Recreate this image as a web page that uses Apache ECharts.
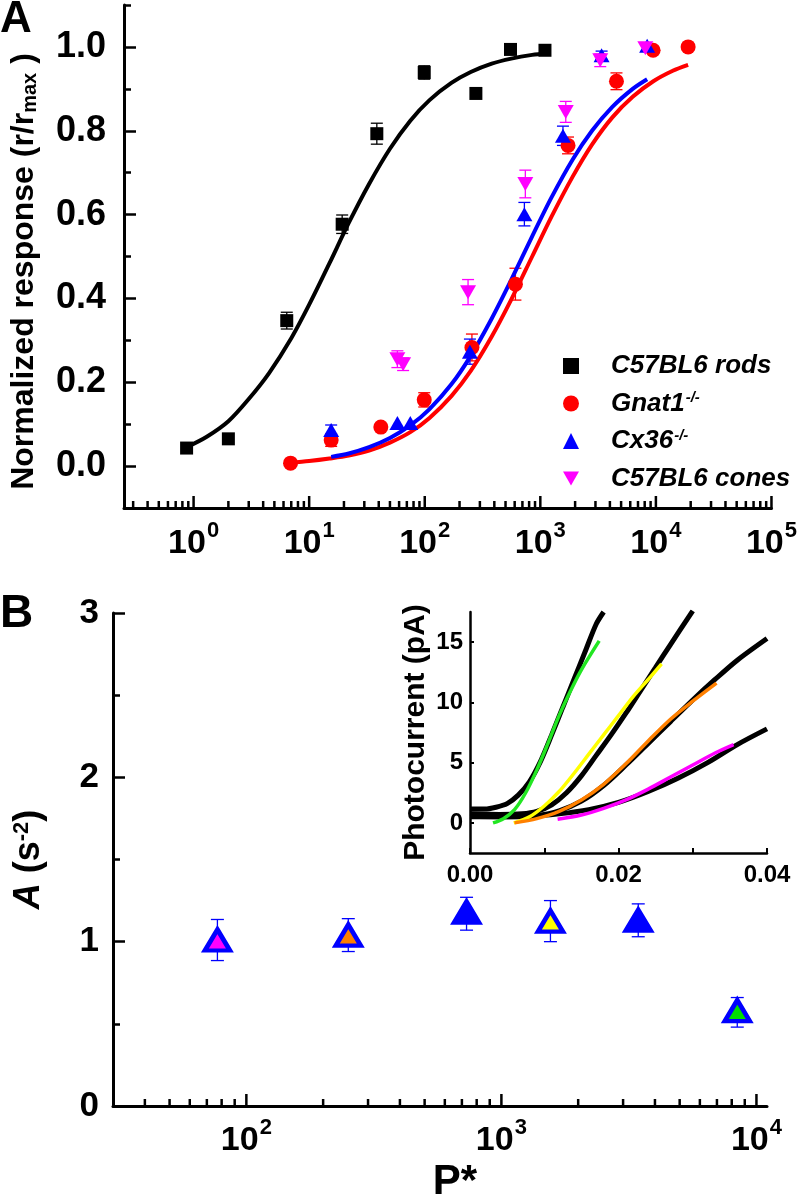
<!DOCTYPE html>
<html><head><meta charset="utf-8">
<script src="https://cdn.jsdelivr.net/npm/echarts@6/dist/echarts.min.js"></script>
<style>html,body{margin:0;padding:0;background:#fff}#c{width:800px;height:1204px}</style>
</head><body><div id="c"></div>
<script>
// ---------------- Panel A data ----------------
const rodsX = [0.87, 2.0, 6.4, 19.3, 38.5, 99, 277, 552, 1097];
const rodsY = [0.043, 0.065, 0.347, 0.577, 0.793, 0.939, 0.889, 0.994, 0.992];
const rodsErr = [0, 0, 0.02, 0.022, 0.025, 0.016, 0, 0, 0];

const gnatX = [6.9, 15.5, 41.7, 99, 256, 609, 1737, 4560, 9460, 19000];
const gnatY = [0.007, 0.062, 0.093, 0.158, 0.283, 0.434, 0.765, 0.918, 0.992, 1.0];
const gnatErr = [0, 0.015, 0, 0.017, 0.032, 0.038, 0.02, 0.02, 0, 0];

const cx36X = [15.5, 58, 75, 246, 728, 1570, 3390, 8400];
const cx36Y = [0.086, 0.103, 0.103, 0.273, 0.601, 0.788, 0.98, 1.003];
const cx36Err = [0.012, 0, 0, 0.03, 0.028, 0.023, 0.01, 0];

const conesX = [58, 65, 237, 742, 1660, 3300, 8100];
const conesY = [0.255, 0.243, 0.415, 0.673, 0.845, 0.968, 0.997];
const conesErr = [0.02, 0.015, 0.03, 0.033, 0.025, 0.015, 0];

// fitted curves
const fitRods = [[0.87,0.045],[1.3,0.07],[2,0.107],[3,0.16],[4.5,0.222],[7,0.305],[10,0.385],[15,0.484],[22,0.58],[33,0.673],[50,0.757],[75,0.824],[110,0.873],[170,0.914],[250,0.94],[380,0.96],[560,0.972],[850,0.981],[1150,0.985]];
const fitGnat = [[6.9,0.008],[10,0.012],[15,0.018],[22,0.025],[33,0.037],[50,0.056],[75,0.081],[110,0.115],[170,0.167],[250,0.227],[380,0.309],[560,0.397],[850,0.5],[1250,0.595],[1900,0.69],[2800,0.767],[4200,0.832],[6300,0.881],[9500,0.918],[14000,0.943],[19000,0.957]];
const fitCx36 = [[15.5,0.022],[22,0.03],[33,0.045],[50,0.067],[75,0.097],[110,0.136],[170,0.195],[250,0.263],[380,0.352],[560,0.444],[850,0.548],[1250,0.641],[1900,0.731],[2800,0.8],[4200,0.857],[6300,0.9],[8400,0.923]];

const legendNames = ['C57BL6 rods', 'Gnat1', 'Cx36', 'C57BL6 cones'];
const legendLabels = ['{t|C57BL6 rods}', '{t|Gnat1}{s|-/-}', '{t|Cx36}{s|-/-}', '{t|C57BL6 cones}'];

// ---------------- Panel B data ----------------
const bX = [77, 251, 730, 1557, 3440, 8410];
const bY = [1.01, 1.04, 1.18, 1.125, 1.13, 0.58];
const bErrDown = [0.125, 0.1, 0.11, 0.125, 0.1, 0.1];
const bErrUp = [0.125, 0.1, 0.09, 0.125, 0.1, 0.08];
const bFill = ['#ff00ff', '#ff8000', '#0000ff', '#ffff00', '#0000ff', '#00e000'];

// inset traces
const insetFit1 = [[0,1.15],[0.002,1.15],[0.0035,1.3],[0.005,1.6],[0.0065,2.3],[0.008,3.4],[0.0095,5.1],[0.011,7.3],[0.0125,9.6],[0.014,11.9],[0.0155,14.2],[0.017,16.5],[0.018,17.5]];
const insetFit2 = [[0,0.75],[0.004,0.7],[0.007,0.75],[0.009,0.95],[0.011,1.5],[0.013,2.5],[0.015,3.9],[0.017,5.6],[0.019,7.3],[0.021,9.1],[0.023,11.0],[0.025,12.9],[0.027,14.8],[0.03,17.6]];
const insetFit3 = [[0,0.55],[0.006,0.5],[0.009,0.6],[0.012,1.0],[0.015,1.8],[0.018,3.1],[0.021,4.8],[0.024,6.6],[0.027,8.4],[0.03,10.2],[0.033,11.9],[0.036,13.5],[0.04,15.3]];
const insetFit4 = [[0,0.5],[0.008,0.55],[0.012,0.75],[0.016,1.1],[0.02,1.7],[0.024,2.6],[0.028,3.7],[0.032,5.0],[0.036,6.5],[0.04,7.8]];
const insetGreen = [[0.0031,0],[0.0045,0.35],[0.006,1.1],[0.0075,2.5],[0.009,4.4],[0.0105,6.6],[0.012,8.9],[0.0135,10.9],[0.015,12.7],[0.0174,15.1]];
const insetYellow = [[0.0059,0],[0.008,0.5],[0.01,1.4],[0.012,2.6],[0.014,4.1],[0.016,5.7],[0.018,7.3],[0.02,8.9],[0.022,10.5],[0.024,11.9],[0.0258,13.2]];
const insetOrange = [[0.006,0],[0.009,0.35],[0.012,0.95],[0.015,1.9],[0.018,3.2],[0.021,4.9],[0.024,6.8],[0.027,8.6],[0.03,10.1],[0.0332,11.6]];
const insetMagenta = [[0.0118,0.3],[0.015,0.65],[0.018,1.2],[0.021,1.9],[0.024,2.8],[0.027,3.8],[0.03,4.8],[0.033,5.8],[0.0355,6.5]];

// tick values
const aYMajor = [0, 0.2, 0.4, 0.6, 0.8, 1.0];
const aYMinor = [-0.1, 0.1, 0.3, 0.5, 0.7, 0.9, 1.1];
const bYMajor = [0, 1, 2, 3];
const bYMinor = [0.5, 1.5, 2.5];
const inYMajor = [0, 5, 10, 15];
const inXTicks = [0, 0.01, 0.02, 0.03, 0.04];
const inXLabels = [0, 0.02, 0.04];

// ---------------- helpers ----------------
const FONT = 'Liberation Sans, Arial, sans-serif';
const A_XMIN = 0.25, A_XMAX = 1e5, A_YMIN = -0.1, A_YMAX = 1.1;
const B_XMIN = 30, B_XMAX = 11000, B_YMIN = 0, B_YMAX = 3;

function logTicks(min, max) {
  const out = [];
  for (let e = Math.floor(Math.log10(min)); e <= Math.ceil(Math.log10(max)); e++) {
    for (let m = 1; m <= 9; m++) {
      const v = m * Math.pow(10, e);
      if (v >= min * 1.0001 && v <= max * 1.0001) out.push(+v.toPrecision(6));
    }
  }
  return out;
}
function tickSeries(ticks, xi, yi, yBase, majorLen, minorLen, lw) {
  return {
    type: 'custom', xAxisIndex: xi, yAxisIndex: yi, silent: true, z: 6,
    data: ticks.map(v => [v, yBase]),
    encode: { x: 0, y: 1 },
    renderItem: (p, api) => {
      const v = api.value(0);
      const c = api.coord([v, api.value(1)]);
      const e = Math.log10(v);
      const L = Math.abs(e - Math.round(e)) < 1e-6 ? majorLen : minorLen;
      return { type: 'line', shape: { x1: c[0], y1: c[1], x2: c[0], y2: c[1] - L }, style: { stroke: '#000', lineWidth: lw } };
    }
  };
}
function errSeries(xs, ys, dn, up, color, xi, yi, cap, lw) {
  const data = [];
  xs.forEach((x, i) => { if (dn[i] > 0 || up[i] > 0) data.push([x, ys[i], dn[i], up[i]]); });
  return {
    type: 'custom', xAxisIndex: xi, yAxisIndex: yi, silent: true, z: 2,
    data: data, encode: { x: 0, y: 1 },
    renderItem: (p, api) => {
      const x = api.value(0), y = api.value(1);
      const t = api.coord([x, y + api.value(3)]), b = api.coord([x, y - api.value(2)]);
      const h = cap / 2, st = { stroke: color, lineWidth: lw };
      return { type: 'group', children: [
        { type: 'line', shape: { x1: t[0], y1: t[1], x2: b[0], y2: b[1] }, style: st },
        { type: 'line', shape: { x1: t[0] - h, y1: t[1], x2: t[0] + h, y2: t[1] }, style: st },
        { type: 'line', shape: { x1: b[0] - h, y1: b[1], x2: b[0] + h, y2: b[1] }, style: st }
      ]};
    }
  };
}
const zip = (xs, ys) => xs.map((x, i) => [x, ys[i]]);
const isPow10 = v => { const e = Math.log10(v); return Math.abs(e - Math.round(e)) < 1e-6; };
const powLabel = v => isPow10(v) ? '{b|10}{s|' + Math.round(Math.log10(v)) + '}' : '';
const DOWN_TRI = 'path://M0,0 L10,0 L5,8.7 Z';
const powRich = {
  b: { fontFamily: FONT, fontSize: 34, fontWeight: 'bold', color: '#000', padding: [7, 0, 0, 0] },
  s: { fontFamily: FONT, fontSize: 22, fontWeight: 'bold', color: '#000', verticalAlign: 'top', padding: [0, 0, 0, 1] }
};

const axisLineStyle = w => ({ show: true, onZero: false, lineStyle: { color: '#000', width: w } });

const chart = echarts.init(document.getElementById('c'), null, { renderer: 'canvas' });

const option = {
  backgroundColor: '#fff',
  animation: false,
  title: [
    { text: 'A', left: 0, top: -2, padding: 0, textStyle: { fontFamily: FONT, fontSize: 44, fontWeight: 'bold', color: '#000' } },
    { text: 'B', left: 0, top: 591, padding: 0, textStyle: { fontFamily: FONT, fontSize: 46, fontWeight: 'bold', color: '#000' } }
  ],
  legend: legendNames.map((n, i) => ({
    data: [n], orient: 'vertical', left: 563, top: 353 + i * 37.5, padding: 0,
    itemWidth: 16, itemHeight: 16, selectedMode: false,
    formatter: () => legendLabels[i],
    textStyle: {
      fontFamily: FONT, fontSize: 26, fontWeight: 'bold', fontStyle: 'italic', color: '#000', padding: [0, 0, 0, 27],
      rich: {
        t: { fontFamily: FONT, fontSize: 26, fontWeight: 'bold', fontStyle: 'italic', color: '#000' },
        s: { fontFamily: FONT, fontSize: 15, fontWeight: 'bold', fontStyle: 'italic', color: '#000', verticalAlign: 'top', padding: [0, 0, 10, 1] }
      }
    }
  })),
  grid: [
    { left: 119, right: 28, top: 5, bottom: 696, containLabel: false },
    { left: 113, right: 33, top: 613, bottom: 91, containLabel: false },
    { left: 470, right: 33, top: 612, bottom: 351, containLabel: false }
  ],
  xAxis: [
    { type: 'log', gridIndex: 0, min: A_XMIN, max: A_XMAX, logBase: 10,
      axisLine: axisLineStyle(3), axisTick: { show: false }, splitLine: { show: false },
      axisLabel: { margin: 12, formatter: powLabel, color: '#000', showMinLabel: false, hideOverlap: false,
        fontFamily: FONT, fontSize: 34, fontWeight: 'bold', rich: powRich } },
    { type: 'log', gridIndex: 1, min: B_XMIN, max: B_XMAX, logBase: 10,
      axisLine: axisLineStyle(3), axisTick: { show: false }, splitLine: { show: false },
      axisLabel: { margin: 11, formatter: powLabel, color: '#000', showMinLabel: false, showMaxLabel: false, hideOverlap: false,
        fontFamily: FONT, fontSize: 34, fontWeight: 'bold', rich: powRich },
      name: 'P*', nameLocation: 'middle', nameGap: 55,
      nameTextStyle: { fontFamily: FONT, fontSize: 42, fontWeight: 'bold', color: '#000', padding: [0, 0, 0, 30] } },
    { type: 'value', gridIndex: 2, min: 0, max: 0.04,
      axisLine: axisLineStyle(2.5), splitLine: { show: false },
      axisTick: { inside: true, length: 5, customValues: inXTicks, lineStyle: { width: 2, color: '#000' } },
      axisLabel: { margin: 10, customValues: inXLabels, formatter: v => v.toFixed(2),
        fontFamily: FONT, fontSize: 24, fontWeight: 'bold', color: '#000' } }
  ],
  yAxis: [
    { type: 'value', gridIndex: 0, min: A_YMIN, max: A_YMAX,
      axisLine: axisLineStyle(3), splitLine: { show: false },
      axisTick: { inside: true, length: 12, customValues: aYMajor, lineStyle: { width: 2.5, color: '#000' } },
      axisLabel: { margin: 18, customValues: aYMajor, formatter: v => v.toFixed(1),
        fontFamily: FONT, fontSize: 36, fontWeight: 'bold', color: '#000' },
      name: 'Normalized response (r/r{sub|max} )', nameLocation: 'middle', nameRotate: 90, nameGap: 84,
      nameTextStyle: { fontFamily: FONT, fontSize: 32, fontWeight: 'bold', color: '#000', padding: [0, 30, 0, 0],
        rich: { sub: { fontFamily: FONT, fontSize: 20, fontWeight: 'bold', color: '#000', verticalAlign: 'bottom', padding: [10, 0, 0, 0] } } } },
    { type: 'value', gridIndex: 0, min: A_YMIN, max: A_YMAX, position: 'left',
      axisLine: { show: false }, splitLine: { show: false }, axisLabel: { show: false },
      axisTick: { inside: true, length: 7, customValues: aYMinor, lineStyle: { width: 2.5, color: '#000' } } },
    { type: 'value', gridIndex: 1, min: B_YMIN, max: B_YMAX,
      axisLine: axisLineStyle(3), splitLine: { show: false },
      axisTick: { inside: true, length: 12, customValues: bYMajor, lineStyle: { width: 2.5, color: '#000' } },
      axisLabel: { margin: 14, customValues: bYMajor, fontFamily: FONT, fontSize: 35, fontWeight: 'bold', color: '#000' },
      name: '{i|A} (s{sup|-2})', nameLocation: 'middle', nameRotate: 90, nameGap: 66,
      nameTextStyle: { fontFamily: FONT, fontSize: 36, fontWeight: 'bold', color: '#000',
        rich: { i: { fontFamily: FONT, fontSize: 36, fontWeight: 'bold', fontStyle: 'italic', color: '#000' },
                sup: { fontFamily: FONT, fontSize: 22, fontWeight: 'bold', color: '#000', verticalAlign: 'top', padding: [0, 0, 14, 0] } } } },
    { type: 'value', gridIndex: 1, min: B_YMIN, max: B_YMAX, position: 'left',
      axisLine: { show: false }, splitLine: { show: false }, axisLabel: { show: false },
      axisTick: { inside: true, length: 7, customValues: bYMinor, lineStyle: { width: 2.5, color: '#000' } } },
    { type: 'value', gridIndex: 2, min: -2.5, max: 17.5,
      axisLine: axisLineStyle(2.5), splitLine: { show: false },
      axisTick: { inside: true, length: 4, customValues: inYMajor, lineStyle: { width: 2, color: '#000' } },
      axisLabel: { margin: 7, customValues: inYMajor, fontFamily: FONT, fontSize: 24, fontWeight: 'bold', color: '#000' },
      name: 'Photocurrent (pA)', nameLocation: 'middle', nameRotate: 90, nameGap: 39,
      nameTextStyle: { fontFamily: FONT, fontSize: 30, fontWeight: 'bold', color: '#000' } }
  ],
  series: [
    tickSeries(logTicks(A_XMIN, A_XMAX), 0, 0, A_YMIN, 12, 7, 2.5),
    tickSeries(logTicks(B_XMIN, B_XMAX), 1, 2, B_YMIN, 12, 7, 2.5),
    { type: 'line', name: 'fit rods', xAxisIndex: 0, yAxisIndex: 0, data: fitRods, smooth: 0.3, showSymbol: false, silent: true, z: 3,
      lineStyle: { color: '#000', width: 4 } },
    { type: 'line', name: 'fit gnat', xAxisIndex: 0, yAxisIndex: 0, data: fitGnat, smooth: 0.3, showSymbol: false, silent: true, z: 3,
      lineStyle: { color: '#ff0000', width: 4 } },
    { type: 'line', name: 'fit cx36', xAxisIndex: 0, yAxisIndex: 0, data: fitCx36, smooth: 0.3, showSymbol: false, silent: true, z: 3,
      lineStyle: { color: '#0000ff', width: 4 } },
    errSeries(rodsX, rodsY, rodsErr, rodsErr, '#000', 0, 0, 12, 1.3),
    errSeries(gnatX, gnatY, gnatErr, gnatErr, '#ff0000', 0, 0, 12, 1.3),
    errSeries(cx36X, cx36Y, cx36Err, cx36Err, '#0000ff', 0, 0, 12, 1.3),
    errSeries(conesX, conesY, conesErr, conesErr, '#ff00ff', 0, 0, 12, 1.3),
    { type: 'scatter', name: 'C57BL6 rods', xAxisIndex: 0, yAxisIndex: 0, data: zip(rodsX, rodsY), symbol: 'rect', symbolSize: 13, z: 4,
      itemStyle: { color: '#000', opacity: 1 } },
    { type: 'scatter', name: 'Gnat1', xAxisIndex: 0, yAxisIndex: 0, data: zip(gnatX, gnatY), symbol: 'circle', symbolSize: 15, z: 4,
      itemStyle: { color: '#ff0000', opacity: 1 } },
    { type: 'scatter', name: 'Cx36', xAxisIndex: 0, yAxisIndex: 0, data: zip(cx36X, cx36Y), symbol: 'triangle', symbolSize: [16, 14], z: 4,
      itemStyle: { color: '#0000ff', opacity: 1 } },
    { type: 'scatter', name: 'C57BL6 cones', xAxisIndex: 0, yAxisIndex: 0, data: zip(conesX, conesY), symbol: DOWN_TRI, symbolSize: [16, 14], z: 4,
      itemStyle: { color: '#ff00ff', opacity: 1 } },
    errSeries(bX, bY, bErrDown, bErrUp, '#0000ff', 1, 2, 13, 1.3),
    { type: 'scatter', name: 'A values', xAxisIndex: 1, yAxisIndex: 2, symbol: 'triangle', symbolSize: [25, 21], z: 4,
      data: bX.map((x, i) => ({ value: [x, bY[i]], itemStyle: { color: bFill[i] } })),
      itemStyle: { borderColor: '#0000ff', borderWidth: 4.5, opacity: 1 } },
    ...[insetFit1, insetFit2, insetFit3, insetFit4].map(d => ({
      type: 'line', xAxisIndex: 2, yAxisIndex: 4, data: d, smooth: 0.3, showSymbol: false, silent: true, z: 3,
      lineStyle: { color: '#000', width: 5 } })),
    ...[[insetGreen, '#22e622'], [insetYellow, '#ffff00'], [insetOrange, '#ff8000'], [insetMagenta, '#ff00ff']].map(([d, c]) => ({
      type: 'line', xAxisIndex: 2, yAxisIndex: 4, data: d, smooth: 0.3, showSymbol: false, silent: true, z: 4,
      lineStyle: { color: c, width: 3.5 } }))
  ]
};
chart.setOption(option);
</script></body></html>
